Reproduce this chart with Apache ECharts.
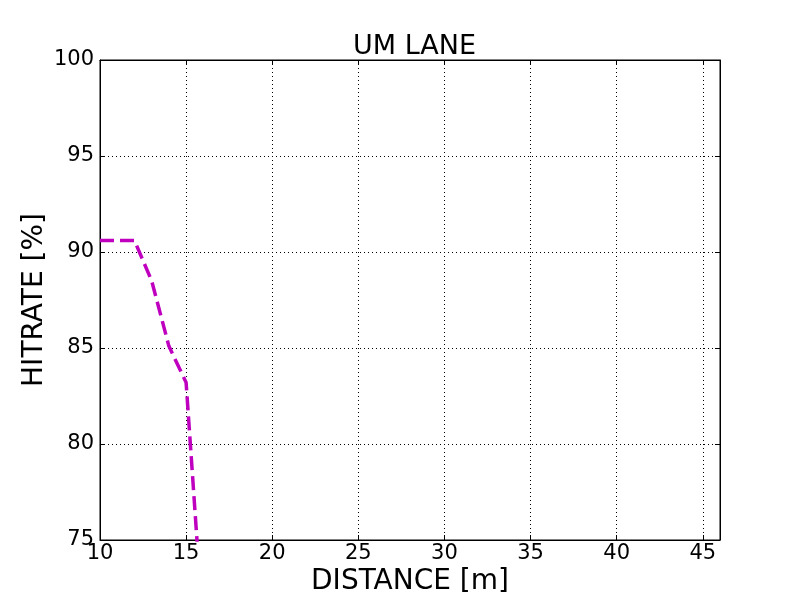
<!DOCTYPE html>
<html>
<head>
<meta charset="utf-8">
<script src="https://cdn.jsdelivr.net/npm/echarts@6/dist/echarts.min.js"></script>
<style>html,body{margin:0;padding:0;background:#fff}#c{width:800px;height:600px}</style>
</head>
<body>
<div id="c"></div>
<script>
var distance = [10, 12, 13, 14, 15, 16];
var hitrate = [90.6, 90.6, 88.5, 85.1, 83.2, 70.2];
var titleText = 'UM LANE';
var xName = 'DISTANCE [m]';
var yName = 'HITRATE [%]';

var font = 'DejaVu Sans';
var chart = echarts.init(document.getElementById('c'), null, {renderer: 'canvas'});
var grid = {left: 100, right: 80, top: 60, bottom: 60, show: true, borderColor: '#000', borderWidth: 1, backgroundColor: '#fff', containLabel: false, outerBoundsMode: 'none'};
var axisCommon = {
  axisLine: {show: true, lineStyle: {color: '#000', width: 1}},
  axisTick: {show: true, inside: true, length: 5, lineStyle: {color: '#000'}},
};
chart.setOption({
  animation: false,
  title: {text: titleText, left: 348, top: 28, textStyle: {fontFamily: font, fontSize: 27, fontWeight: 'normal', color: '#000'}},
  grid: grid,
  xAxis: [{
    type: 'value', min: 10, max: 46, interval: 5,
    name: xName, nameLocation: 'middle', nameGap: 28, nameMoveOverlap: false,
    nameTextStyle: {fontFamily: font, fontSize: 28, color: '#000'},
    axisLine: axisCommon.axisLine, axisTick: axisCommon.axisTick,
    axisLabel: {fontFamily: font, fontSize: 21, color: '#000', margin: 3, showMaxLabel: false},
    splitLine: {show: true, lineStyle: {color: '#000', type: [1, 3], width: 1}}
  }, {
    type: 'value', position: 'top', min: 10, max: 46, interval: 5,
    axisLine: axisCommon.axisLine, axisTick: axisCommon.axisTick,
    axisLabel: {show: false}, splitLine: {show: false}
  }],
  yAxis: [{
    type: 'value', min: 75, max: 100, interval: 5,
    name: yName, nameLocation: 'middle', nameGap: 51, nameRotate: 90, nameMoveOverlap: false,
    nameTextStyle: {fontFamily: font, fontSize: 28, color: '#000'},
    axisLine: axisCommon.axisLine, axisTick: axisCommon.axisTick,
    axisLabel: {fontFamily: font, fontSize: 21, color: '#000', margin: 6},
    splitLine: {show: true, lineStyle: {color: '#000', type: [1, 3], width: 1}}
  }, {
    type: 'value', position: 'right', min: 75, max: 100, interval: 5,
    axisLine: axisCommon.axisLine, axisTick: axisCommon.axisTick,
    axisLabel: {show: false}, splitLine: {show: false}
  }],
  series: [{
    type: 'line',
    data: distance.map(function (d, i) { return [d, hitrate[i]]; }),
    showSymbol: false, symbol: 'none', clip: true,
    lineStyle: {color: '#bf00bf', width: 3.5, type: [14, 6]}
  }]
});
</script>
</body>
</html>
